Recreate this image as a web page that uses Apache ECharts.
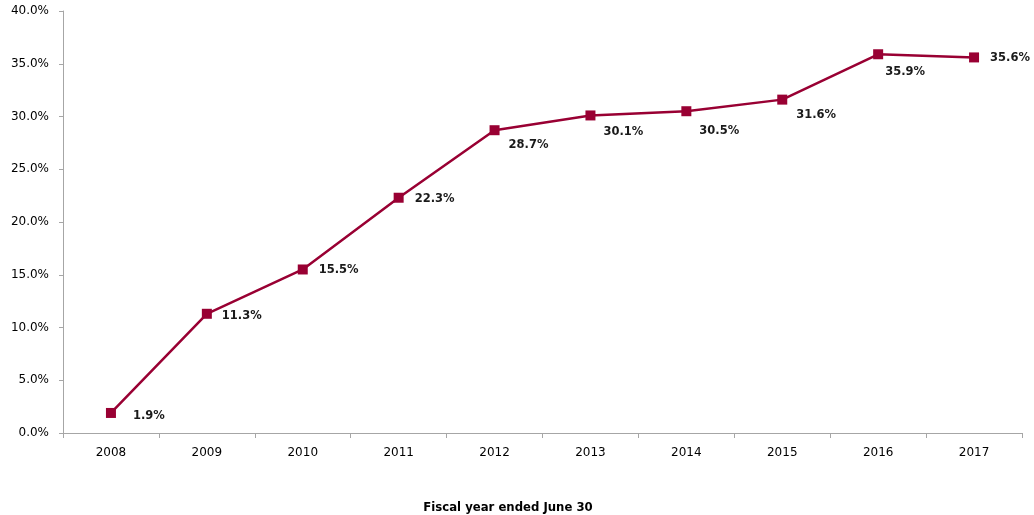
<!DOCTYPE html>
<html>
<head>
<meta charset="utf-8">
<script src="https://cdn.jsdelivr.net/npm/echarts@6/dist/echarts.min.js"></script>
<style>html,body{margin:0;padding:0;background:#fff}#c{width:1034px;height:515px}</style>
</head>
<body>
<div id="c"></div>
<script>
var categories = ['2008','2009','2010','2011','2012','2013','2014','2015','2016','2017'];
var values = [1.9, 11.3, 15.5, 22.3, 28.7, 30.1, 30.5, 31.6, 35.9, 35.6];
var xAxisTitle = 'Fiscal year ended June 30';
var labelOffsets = [[12,3],[5,2],[6,1],[6,1],[4,15],[3,17],[3,20],[4,15],[-3,18],[6,1]];

var chart = echarts.init(document.getElementById('c'));
var font = '"DejaVu Sans", Verdana, sans-serif';
var axisColor = '#a6a6a6';
chart.setOption({
  animation: false,
  title: {
    text: xAxisTitle, left: 503, top: 497, textAlign: 'center',
    textStyle: {fontFamily: font, fontSize: 11.7, fontWeight: 'bold', color: '#000'}
  },
  grid: {left: 63, right: 12, top: 11, bottom: 82, containLabel: false},
  xAxis: {
    type: 'category',
    data: categories,
    boundaryGap: true,
    axisLine: {lineStyle: {color: axisColor, width: 1}},
    axisTick: {show: true, length: 5, lineStyle: {color: axisColor}},
    axisLabel: {fontFamily: font, fontSize: 12, color: '#000', margin: 14}
  },
  yAxis: {
    type: 'value',
    min: 0, max: 40, interval: 5,
    axisLine: {show: true, lineStyle: {color: axisColor, width: 1}},
    axisTick: {show: true, length: 4, lineStyle: {color: axisColor}},
    splitLine: {show: false},
    axisLabel: {fontFamily: font, fontSize: 12, color: '#000', margin: 14,
      formatter: function(v){ return v.toFixed(1) + '%'; }}
  },
  series: [{
    type: 'line',
    data: values.map(function(v, i){
      return {value: v, label: {offset: labelOffsets[i]}};
    }),
    symbol: 'rect',
    symbolSize: 10,
    lineStyle: {color: '#990033', width: 2.5},
    itemStyle: {color: '#990033'},
    label: {
      show: true, position: 'right', distance: 5,
      fontFamily: font, fontSize: 11.5, fontWeight: 'bold', color: '#1a1a1a',
      formatter: function(p){ return p.value.toFixed(1) + '%'; }
    }
  }]
});
</script>
</body>
</html>
